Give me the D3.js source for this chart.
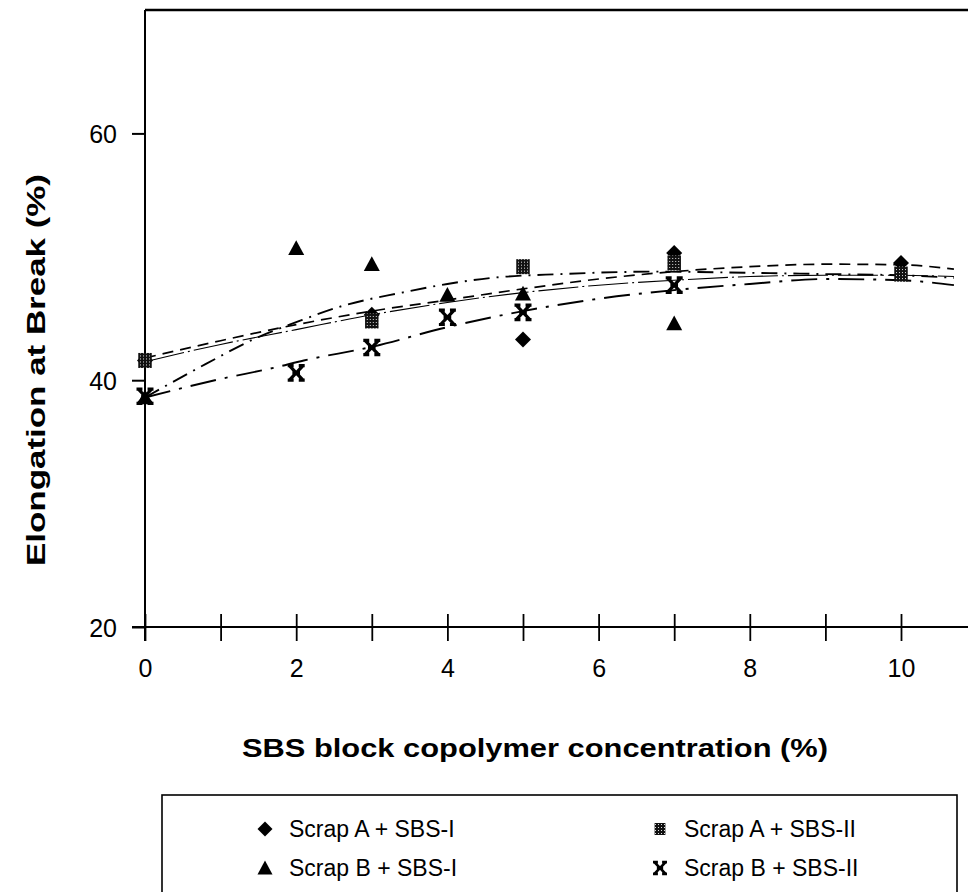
<!DOCTYPE html>
<html>
<head>
<meta charset="utf-8">
<script src="https://cdn.jsdelivr.net/npm/d3@7"></script>
<style>
  html, body { margin: 0; padding: 0; background: #fff; }
  svg { display: block; }
  text { font-family: "Liberation Sans", Arial, Helvetica, sans-serif; fill: #000; }
</style>
</head>
<body>
<svg id="chart" width="968" height="892"></svg>
<script>
// Measured elongation at break (%) vs SBS content (%)
const seriesNames = ["Scrap A + SBS-I", "Scrap A + SBS-II", "Scrap B + SBS-I", "Scrap B + SBS-II"];

const xA1 = [0, 3, 5, 7, 10];
const yA1 = [41.6, 45.3, 43.3, 50.3, 49.5];     // Scrap A + SBS-I (diamond)
const xA2 = [0, 3, 5, 7, 10];
const yA2 = [41.6, 44.8, 49.2, 49.5, 48.6];     // Scrap A + SBS-II (square)
const xB1 = [0, 2, 3, 4, 5, 7];
const yB1 = [38.6, 50.7, 49.4, 46.9, 47.0, 44.6]; // Scrap B + SBS-I (triangle)
const xB2 = [0, 2, 3, 4, 5, 7];
const yB2 = [38.7, 40.6, 42.65, 45.1, 45.5, 47.7]; // Scrap B + SBS-II (star)

// Smoothed trend curves, knots along each curve
const fitXA1 = [0, 1, 2, 3, 4, 5, 6, 7, 8, 9, 10, 10.7];
const fitYA1 = [41.8, 43.2, 44.5, 45.6, 46.5, 47.4, 48.2, 48.8, 49.2, 49.4, 49.35, 49.0];
const fitXA2 = [0, 1, 2, 3, 4, 5, 6, 7, 8, 9, 10, 10.7];
const fitYA2 = [41.5, 42.9, 44.1, 45.3, 46.3, 47.1, 47.7, 48.1, 48.4, 48.5, 48.5, 48.4];
const fitXB1 = [0, 0.8, 1.5, 2, 2.6, 3.4, 4, 4.6, 5.5, 6.8, 8, 9, 10, 10.7];
const fitYB1 = [38.6, 41.3, 43.5, 44.7, 46.0, 47.1, 47.8, 48.3, 48.6, 48.8, 48.7, 48.6, 48.5, 48.3];
const fitXB2 = [0, 1, 1.7, 2.1, 3, 4, 5, 6, 7, 8, 9, 10, 10.7];
const fitYB2 = [38.6, 40.1, 41.0, 41.6, 42.7, 44.3, 45.6, 46.6, 47.3, 47.8, 48.2, 48.1, 47.7];

const xTicks = [0, 1, 2, 3, 4, 5, 6, 7, 8, 9, 10];
const yTicks = [20, 40, 60];
const xTitle = "SBS block copolymer concentration (%)";
const yTitle = "Elongation at Break (%)";

const svg = d3.select("#chart");

const x = d3.scaleLinear().domain([0, 11]).range([145, 976.6]);
const y = d3.scaleLinear().domain([20, 70]).range([627, 10]);

// dotted fill used by the square marker
const defs = svg.append("defs");
const pat = defs.append("pattern").attr("id", "dots")
  .attr("width", 3).attr("height", 3).attr("patternUnits", "userSpaceOnUse");
pat.append("rect").attr("width", 3).attr("height", 3).attr("fill", "#111");
pat.append("rect").attr("x", 1).attr("y", 1).attr("width", 1).attr("height", 1).attr("fill", "#ddd");

// plot frame (top and right edges)
svg.append("path")
  .attr("d", `M${x(0)},${y(70)} H${x(11)} V${y(20)}`)
  .attr("fill", "none").attr("stroke", "#000").attr("stroke-width", 2.4);

// y axis
const yAxis = svg.append("g").attr("transform", `translate(${x(0)},0)`)
  .call(d3.axisLeft(y).tickValues(yTicks).tickSize(13).tickPadding(15).tickFormat(d3.format("d")));
yAxis.select(".domain").attr("d", `M0,${y(70)} V${y(20) + 14}`).attr("stroke-width", 2);
yAxis.selectAll(".tick line").attr("stroke-width", 2);
yAxis.selectAll(".tick text").style("font-size", "25px").attr("dy", "0.36em");

// x axis with ticks crossing the baseline
const xAxis = svg.append("g").attr("transform", `translate(0,${y(20)})`)
  .call(d3.axisBottom(x).tickValues(xTicks).tickSize(14).tickPadding(18)
    .tickFormat(d => d % 2 === 0 ? d : ""));
xAxis.select(".domain").attr("d", `M${x(0) - 13},0 H${x(11)}`).attr("stroke-width", 2);
xAxis.selectAll(".tick line").attr("y1", -13).attr("stroke-width", 1.8);
xAxis.selectAll(".tick text").style("font-size", "25px");

// axis titles
svg.append("text")
  .attr("x", 535).attr("y", 757)
  .attr("text-anchor", "middle")
  .attr("textLength", 586).attr("lengthAdjust", "spacingAndGlyphs")
  .style("font-size", "25px").style("font-weight", "bold")
  .text(xTitle);

svg.append("text")
  .attr("transform", "translate(45,370) rotate(-90)")
  .attr("text-anchor", "middle")
  .attr("textLength", 392).attr("lengthAdjust", "spacingAndGlyphs")
  .style("font-size", "25px").style("font-weight", "bold")
  .text(yTitle);

// trend curves
const curves = [
  { xs: fitXA1, ys: fitYA1, dash: "11,7", w: 1.7 },
  { xs: fitXA2, ys: fitYA2, dash: "40,4,2,4", w: 1.1 },
  { xs: fitXB1, ys: fitYB1, dash: "16,7,2,7", w: 1.9 },
  { xs: fitXB2, ys: fitYB2, dash: "26,9,3,9", w: 1.9 }
];
const line = d3.line().x(d => x(d[0])).y(d => y(d[1])).curve(d3.curveMonotoneX);
svg.append("g").selectAll("path").data(curves).join("path")
  .attr("d", c => line(c.xs.map((v, i) => [v, c.ys[i]])))
  .attr("fill", "none").attr("stroke", "#000")
  .attr("stroke-width", c => c.w).attr("stroke-dasharray", c => c.dash);

// marker shapes
function diamondPath(s) { return `M0,${-s} L${s},0 L0,${s} L${-s},0 Z`; }
function trianglePath(s) { return `M0,${-s} L${s},${s * 0.85} L${-s},${s * 0.85} Z`; }
function starPath(s) {
  return `M${-s * 0.8},${-s * 0.85} L${s * 0.8},${s * 0.85} M${s * 0.8},${-s * 0.85} L${-s * 0.8},${s * 0.85}` +
         `M${-s},${-s * 0.85} H${-s * 0.3} M${s * 0.3},${-s * 0.85} H${s}` +
         `M${-s},${s * 0.85} H${-s * 0.3} M${s * 0.3},${s * 0.85} H${s}` +
         `M${-s * 0.45},0 H${s * 0.45}`;
}

function drawMarkers(g, xs, ys, kind, s) {
  const pts = xs.map((v, i) => [v, ys[i]]);
  const sel = g.selectAll(null).data(pts).join("path")
    .attr("transform", d => `translate(${x(d[0])},${y(d[1])})`);
  styleMarker(sel, kind, s);
}
function styleMarker(sel, kind, s) {
  if (kind === "diamond") sel.attr("d", diamondPath(s)).attr("fill", "#000");
  else if (kind === "triangle") sel.attr("d", trianglePath(s)).attr("fill", "#000");
  else if (kind === "square") sel.attr("d", `M${-s * 0.9},${-s} H${s * 0.9} V${s} H${-s * 0.9} Z`)
    .attr("fill", "url(#dots)");
  else sel.attr("d", starPath(s)).attr("fill", "none").attr("stroke", "#000")
    .attr("stroke-width", s * 0.38).attr("stroke-linecap", "butt");
}

const marks = svg.append("g");
drawMarkers(marks.append("g"), xA1, yA1, "diamond", 8);
drawMarkers(marks.append("g"), xB1, yB1, "triangle", 8);
drawMarkers(marks.append("g"), xB2, yB2, "star", 8.5);
drawMarkers(marks.append("g"), xA2, yA2, "square", 7.5);

// legend
svg.append("rect")
  .attr("x", 162).attr("y", 795).attr("width", 795).attr("height", 130)
  .attr("fill", "none").attr("stroke", "#000").attr("stroke-width", 1.6);

const legendItems = [
  { name: seriesNames[0], kind: "diamond", s: 7.5, lx: 265, ly: 829 },
  { name: seriesNames[2], kind: "triangle", s: 7.5, lx: 265, ly: 868 },
  { name: seriesNames[1], kind: "square", s: 6, lx: 660, ly: 829 },
  { name: seriesNames[3], kind: "star", s: 7, lx: 660, ly: 868 }
];
const lg = svg.append("g").selectAll("g").data(legendItems).join("g")
  .attr("transform", d => `translate(${d.lx},${d.ly})`);
lg.each(function (d) {
  styleMarker(d3.select(this).append("path"), d.kind, d.s);
});
lg.append("text")
  .attr("x", 24).attr("y", 0).attr("dy", "0.36em")
  .style("font-size", "23px")
  .text(d => d.name);
</script>
</body>
</html>
